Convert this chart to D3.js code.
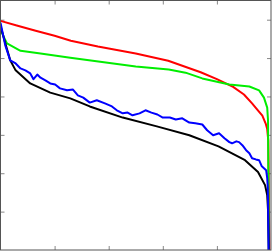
<!DOCTYPE html>
<html>
<head>
<meta charset="utf-8">
<script src="https://cdn.jsdelivr.net/npm/d3@7"></script>
<style>
  body { margin: 0; background: #fff; }
  svg { display: block; }
</style>
</head>
<body>
<div id="chart"></div>
<script>

// curves (x in 0..5, y in 0..6.5)
var redX = [0, 0.3, 0.65, 1.0, 1.3, 1.8, 2.5, 3.1, 3.7, 4.0, 4.3, 4.5, 4.65, 4.75, 4.84, 4.9, 4.93, 4.95, 4.97]
var redY = [5.97, 5.85, 5.71, 5.58, 5.45, 5.3, 5.12, 4.93, 4.63, 4.45, 4.25, 4.05, 3.82, 3.65, 3.5, 3.3, 3.15, 2.85, 0]

var greenX = [0, 0.06, 0.12, 0.37, 0.74, 1.29, 2.5, 3.11, 3.42, 3.73, 4.23, 4.6, 4.78, 4.87, 4.93, 4.945, 4.96]
var greenY = [5.75, 5.55, 5.38, 5.19, 5.12, 5.01, 4.78, 4.7, 4.62, 4.47, 4.31, 4.26, 4.16, 3.97, 3.71, 3.38, 0]

var blackX = [0, 0.09, 0.18, 0.28, 0.55, 0.92, 1.29, 1.65, 2.26, 2.89, 3.49, 4.03, 4.52, 4.76, 4.89, 4.93, 4.945, 4.96]
var blackY = [5.84, 5.38, 4.94, 4.68, 4.34, 4.1, 3.95, 3.74, 3.45, 3.22, 2.99, 2.7, 2.34, 2.03, 1.69, 1.43, 1.04, 0]

var blueX = [0, 0.09, 0.18, 0.28, 0.37, 0.46, 0.55, 0.61, 0.68, 0.74, 0.83, 0.92, 1.01, 1.1, 1.23, 1.34, 1.43, 1.53, 1.65, 1.78,
  1.93, 2.06, 2.15, 2.26, 2.35, 2.44, 2.57, 2.68, 2.79, 2.9, 3.0, 3.13, 3.24, 3.36, 3.49, 3.6, 3.73, 3.82, 3.93, 4.04,
  4.14, 4.23, 4.28, 4.36, 4.41, 4.47, 4.54, 4.6, 4.65, 4.72, 4.78, 4.83, 4.91, 4.93, 4.94, 4.945, 4.955]
var blueY = [5.92, 5.32, 4.94, 4.86, 4.73, 4.68, 4.6, 4.45, 4.57, 4.49, 4.42, 4.34, 4.31, 4.21, 4.16, 4.18, 4.03, 3.97, 3.84, 3.9,
  3.82, 3.74, 3.64, 3.56, 3.58, 3.51, 3.56, 3.64, 3.58, 3.53, 3.45, 3.45, 3.4, 3.43, 3.32, 3.3, 3.27, 3.12, 2.99, 3.04,
  2.91, 2.81, 2.78, 2.83, 2.81, 2.73, 2.6, 2.52, 2.39, 2.36, 2.34, 2.18, 2.08, 1.87, 1.64, 1.3, 0]

var xTicks = [1, 2, 3, 4]
var yTicks = [1, 2, 3, 4, 5, 6]

var width = 272,
    height = 251;

var svg = d3.select("#chart").append("svg")
  .attr("width", width)
  .attr("height", height);

var xScale = d3.scaleLinear()
  .domain([0, 5])
  .range([0.5, 271]);

var yScale = d3.scaleLinear()
  .domain([0, 6.5])
  .range([250, 0.5]);

// inward ticks on all four sides
svg.append("g")
    .attr("transform", "translate(0,250)")
    .call(d3.axisBottom(xScale).tickValues(xTicks).tickSize(-4).tickFormat(""));
svg.append("g")
    .attr("transform", "translate(0,0.5)")
    .call(d3.axisTop(xScale).tickValues(xTicks).tickSize(-4).tickFormat(""));
svg.append("g")
    .attr("transform", "translate(0.5,0)")
    .call(d3.axisLeft(yScale).tickValues(yTicks).tickSize(-4).tickFormat(""));
svg.append("g")
    .attr("transform", "translate(271,0)")
    .call(d3.axisRight(yScale).tickValues(yTicks).tickSize(-4).tickFormat(""));

svg.selectAll(".domain").remove();
svg.selectAll(".tick line").attr("stroke", "#888");

var series = [
  {x: redX, y: redY, color: "#ff0000"},
  {x: greenX, y: greenY, color: "#00ee00"},
  {x: blackX, y: blackY, color: "#000000"},
  {x: blueX, y: blueY, color: "#0000ff"}
];

var line = d3.line()
  .x(function(d) { return xScale(d[0]); })
  .y(function(d) { return yScale(d[1]); });

svg.selectAll(".curve")
    .data(series)
  .enter().append("path")
    .attr("class", "curve")
    .attr("d", function(s) { return line(d3.zip(s.x, s.y)); })
    .attr("fill", "none")
    .attr("stroke", function(s) { return s.color; })
    .attr("stroke-width", 2)
    .attr("stroke-linejoin", "round");

// frame
svg.append("rect")
    .attr("x", 0.5)
    .attr("y", 0.5)
    .attr("width", 270.5)
    .attr("height", 249.5)
    .attr("fill", "none")
    .attr("stroke", "#555")
    .attr("stroke-width", 1);

</script>
</body>
</html>
